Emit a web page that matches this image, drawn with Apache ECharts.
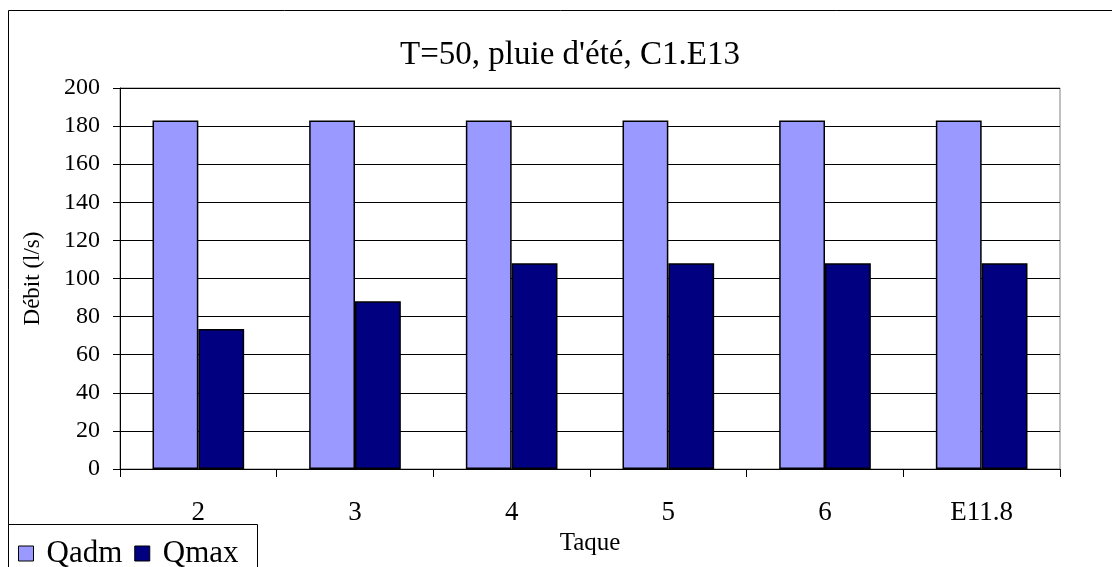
<!DOCTYPE html>
<html>
<head>
<meta charset="utf-8">
<script src="https://cdn.jsdelivr.net/npm/echarts@6/dist/echarts.min.js"></script>
<style>html,body{margin:0;padding:0;background:#fff}#c{width:1112px;height:567px}</style>
</head>
<body>
<div id="c"></div>
<script>
var categories = ['2', '3', '4', '5', '6', 'E11.8'];
var qadm = [183, 183, 183, 183, 183, 183];
var qmax = [73.5, 88, 108, 108, 108, 108];
var yTicks = {min: 0, max: 200, interval: 20};
var titleText = "T=50, pluie d'été, C1.E13";
var seriesNames = ['Qadm', 'Qmax'];

var F = '"Liberation Serif", "Times New Roman", serif';
var chart = echarts.init(document.getElementById('c'), null, {renderer: 'canvas'});
chart.setOption({
  animation: false,
  backgroundColor: '#fff',
  title: {
    text: titleText, left: 565, top: 34, textAlign: 'center',
    textStyle: {fontFamily: F, fontSize: 33, fontWeight: 'normal', color: '#000'}
  },
  graphic: [
    {type: 'rect', z: -10, shape: {x: 8.5, y: 10.5, width: 1200, height: 700}, style: {fill: 'none', stroke: '#000', lineWidth: 1}},
    {type: 'rect', z: 50, shape: {x: 8.5, y: 524.5, width: 249, height: 100}, style: {fill: '#fff', stroke: '#000', lineWidth: 1}}
  ],
  legend: {
    data: seriesNames, left: 13, top: 533, z: 60,
    icon: 'rect', itemWidth: 15, itemHeight: 15, itemGap: 12,
    itemStyle: {borderColor: '#000', borderWidth: 1},
    textStyle: {fontFamily: F, fontSize: 31, color: '#000', padding: [0, 0, 0, 8]}
  },
  grid: {left: 120, right: 52, top: 88, bottom: 98, show: true, borderColor: '#808080', borderWidth: 1, backgroundColor: 'transparent'},
  xAxis: {
    type: 'category', data: categories,
    name: 'Taque', nameLocation: 'middle', nameGap: 55,
    nameTextStyle: {fontFamily: F, fontSize: 25, color: '#000'},
    axisLine: {lineStyle: {color: '#000', width: 1}},
    axisTick: {show: true, length: 8, lineStyle: {color: '#000'}},
    axisLabel: {fontFamily: F, fontSize: 27, color: '#000', margin: 30}
  },
  yAxis: {
    type: 'value', min: yTicks.min, max: yTicks.max, interval: yTicks.interval,
    name: 'Débit (l/s)', nameLocation: 'middle', nameGap: 76, nameRotate: 90,
    nameTextStyle: {fontFamily: F, fontSize: 23, color: '#000'},
    axisLine: {show: true, lineStyle: {color: '#000', width: 1}},
    axisTick: {show: true, length: 7, lineStyle: {color: '#000'}},
    axisLabel: {fontFamily: F, fontSize: 24, color: '#000', margin: 20},
    splitLine: {show: true, lineStyle: {color: '#000', width: 1}}
  },
  series: [
    {name: seriesNames[0], type: 'bar', data: qadm, barGap: '0%', barCategoryGap: '41.5%',
     itemStyle: {color: '#9999FF', borderColor: '#000', borderWidth: 1.5}},
    {name: seriesNames[1], type: 'bar', data: qmax, barGap: '0%', barCategoryGap: '41.5%',
     itemStyle: {color: '#000080', borderColor: '#000', borderWidth: 1.5}}
  ]
});
</script>
</body>
</html>
